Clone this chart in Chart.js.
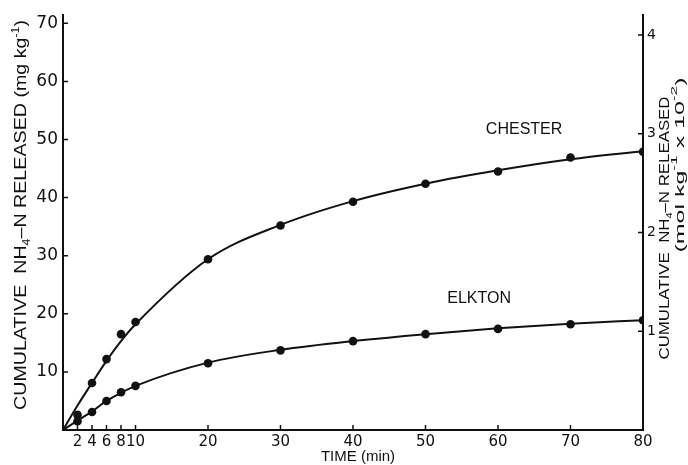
<!DOCTYPE html>
<html>
<head>
<meta charset="utf-8">
<script src="https://cdn.jsdelivr.net/npm/chart.js@4.4.1/dist/chart.umd.min.js"></script>
<style>
  html, body { margin: 0; padding: 0; background: #fff; }
  #wrap { width: 688px; height: 465px; }
</style>
</head>
<body>
<div id="wrap"><canvas id="cum"></canvas></div>
<script>
const times = [2, 4, 6, 8, 10, 20, 30, 40, 50, 60, 70, 80]
const chester = [2.6, 8.1, 12.2, 16.5, 18.6, 29.4, 35.2, 39.3, 42.4, 44.5, 46.9, 47.9]
const elkton = [1.5, 3.1, 5.0, 6.5, 7.6, 11.5, 13.7, 15.3, 16.5, 17.4, 18.2, 18.9]

// hand drawn fitted curves
const curveTimes = [0, 2, 4, 6, 8, 10, 20, 30, 40, 50, 60, 70, 80]
const chesterCurve = [0, 4.2, 8.1, 11.9, 15.3, 18.2, 29.4, 35.3, 39.4, 42.4, 44.7, 46.6, 48.0]
const elktonCurve = [0, 1.6, 3.2, 5.0, 6.4, 7.6, 11.6, 13.8, 15.3, 16.5, 17.5, 18.3, 18.9]

const xTicks = [2, 4, 6, 8, 10, 20, 30, 40, 50, 60, 70, 80]
const yTicks = [10, 20, 30, 40, 50, 60, 70]
const yRightTicks = [1, 2, 3, 4]

const INK = '#111'
const TITLE_FONT = '"Liberation Sans", Arial, sans-serif'
const TICK_FONT = '"DejaVu Sans", sans-serif'

const pts = (xs, ys) => xs.map((x, i) => ({x: x, y: ys[i]}))

function richText(ctx, parts, cx, cy, angle, target) {
    ctx.save()
    ctx.translate(cx, cy)
    ctx.rotate(angle)
    let total = 0
    for (let p of parts) {
        ctx.font = p.size + 'px ' + TITLE_FONT
        p.w = ctx.measureText(p.t).width
        total += p.w
    }
    if (target) ctx.scale(target / total, 1)
    let x = -total / 2
    ctx.textBaseline = 'middle'
    ctx.textAlign = 'left'
    ctx.fillStyle = INK
    for (let p of parts) {
        ctx.font = p.size + 'px ' + TITLE_FONT
        ctx.fillText(p.t, x, p.dy || 0)
        x += p.w
    }
    ctx.restore()
}

const decorations = {
    id: 'decorations',
    afterDatasetsDraw(chart) {
        const ctx = chart.ctx
        const {x, y, yR} = chart.scales
        ctx.save()
        ctx.strokeStyle = INK
        ctx.lineWidth = 1.5
        // inward tick marks
        ctx.beginPath()
        for (let v of xTicks) {
            let px = x.getPixelForValue(v)
            ctx.moveTo(px, y.bottom); ctx.lineTo(px, y.bottom - 5)
        }
        for (let v of yTicks) {
            let py = y.getPixelForValue(v)
            ctx.moveTo(x.left, py); ctx.lineTo(x.left + 5, py)
        }
        for (let v of yRightTicks) {
            let py = yR.getPixelForValue(v)
            ctx.moveTo(x.right - 5, py); ctx.lineTo(x.right, py)
        }
        ctx.stroke()

        // series names
        ctx.fillStyle = INK
        ctx.font = '16px ' + TITLE_FONT
        ctx.textAlign = 'center'
        ctx.textBaseline = 'middle'
        ctx.fillText('CHESTER', x.getPixelForValue(63.6), y.getPixelForValue(51.7))
        ctx.fillText('ELKTON', x.getPixelForValue(57.4), y.getPixelForValue(22.7))

        // axis titles
        ctx.font = '15px ' + TITLE_FONT
        ctx.fillText('TIME (min)', 358, 457)
        ctx.restore()

        richText(ctx, [
            {t: 'CUMULATIVE  NH', size: 16},
            {t: '4', size: 10, dy: 5},
            {t: '–N RELEASED (mg kg', size: 16},
            {t: '-1', size: 10, dy: -6},
            {t: ')', size: 16}
        ], 22, 215, -Math.PI / 2, 390)

        richText(ctx, [
            {t: 'CUMULATIVE  NH', size: 14},
            {t: '4', size: 9, dy: 5},
            {t: '–N RELEASED', size: 14}
        ], 665, 228, -Math.PI / 2, 263)

        richText(ctx, [
            {t: '(mol kg', size: 13},
            {t: '-1', size: 9, dy: -5},
            {t: ' x 10', size: 13},
            {t: '-2', size: 9, dy: -5},
            {t: ')', size: 13}
        ], 680, 165, -Math.PI / 2, 175)
    }
}

const lineSet = (data) => ({
    data: data, showLine: true, borderColor: INK, borderWidth: 2,
    pointRadius: 0, cubicInterpolationMode: 'monotone', fill: false
})
const dotSet = (data) => ({
    data: data, showLine: false, pointRadius: 4.3, pointBackgroundColor: INK,
    pointBorderColor: INK, pointBorderWidth: 0
})

const noGrid = {display: false, drawTicks: false, tickLength: 0}

const ctxCum = document.getElementById('cum').getContext('2d')
const cumChart = new Chart(ctxCum, {
    type: 'scatter',
    data: {
        datasets: [
            lineSet(pts(curveTimes, chesterCurve)),
            lineSet(pts(curveTimes, elktonCurve)),
            dotSet(pts(times, chester)),
            dotSet(pts(times, elkton))
        ]
    },
    options: {
        responsive: true,
        maintainAspectRatio: false,
        animation: false,
        layout: {padding: {top: 15, left: 0, right: 0, bottom: 0}},
        plugins: {legend: {display: false}, tooltip: {enabled: false}},
        scales: {
            x: {
                type: 'linear', min: 0, max: 80,
                grid: noGrid,
                border: {display: true, color: INK, width: 2},
                afterBuildTicks: s => { s.ticks = xTicks.map(v => ({value: v})) },
                afterFit: s => { s.height = 35 },
                ticks: {
                    autoSkip: false, maxRotation: 0, padding: 3,
                    color: INK, font: {family: TICK_FONT, size: 15}
                }
            },
            y: {
                type: 'linear', position: 'left', min: 0, max: 71.4,
                grid: noGrid,
                border: {display: true, color: INK, width: 2},
                afterBuildTicks: s => { s.ticks = yTicks.map(v => ({value: v})) },
                afterFit: s => { s.width = 63 },
                ticks: {padding: 5, color: INK, font: {family: TICK_FONT, size: 17}}
            },
            yR: {
                type: 'linear', position: 'right', min: 0, max: 4.2,
                grid: noGrid,
                border: {display: true, color: INK, width: 2},
                afterBuildTicks: s => { s.ticks = yRightTicks.map(v => ({value: v})) },
                afterFit: s => { s.width = 45 },
                ticks: {padding: 4, color: INK, font: {family: TICK_FONT, size: 14}}
            }
        }
    },
    plugins: [decorations]
})
</script>
</body>
</html>
